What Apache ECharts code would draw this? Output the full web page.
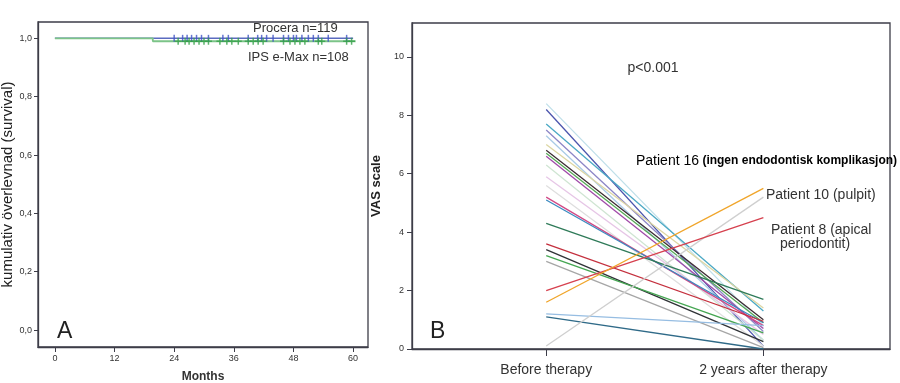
<!DOCTYPE html>
<html>
<head>
<meta charset="utf-8">
<script src="https://cdn.jsdelivr.net/npm/echarts@6/dist/echarts.min.js"></script>
<style>html,body{margin:0;padding:0;background:#fff}#c{width:900px;height:383px}</style>
</head>
<body>
<div id="c"></div>
<script>
// ---------- Panel A: Kaplan-Meier survival ----------
var monthTicks = [0, 12, 24, 36, 48, 60];
var survTicks = [0, 0.2, 0.4, 0.6, 0.8, 1.0];
var proceraCurve = [[0, 1.0], [60, 1.0]];
var ipsCurve = [[0, 1.0], [19.7, 0.99], [60.5, 0.99]];
var proceraCensored = [24.0, 25.7, 26.6, 27.5, 28.5, 29.5, 30.9, 33.8, 34.9, 38.9, 40.8, 41.6, 42.6, 43.9, 46.0, 47.0, 48.0, 48.6, 49.7, 51.0, 52.0, 53.0, 55.0, 58.7];
var ipsCensored = [24.8, 26.2, 27.0, 28.0, 29.0, 30.0, 30.9, 33.2, 34.6, 35.6, 36.9, 38.9, 39.9, 40.9, 41.9, 46.0, 47.3, 48.3, 49.3, 50.3, 53.0, 53.7, 58.7, 59.7];
var proceraLevel = 1.0;
var ipsLevel = 0.99;

// ---------- Panel B: VAS before / after ----------
var timepoints = ['Before therapy', '2 years after therapy'];
var vasTicks = [0, 2, 4, 6, 8, 10];
var vasBefore = [8.4, 8.2, 7.7, 7.5, 7.3, 7.0, 6.8, 6.7, 6.6, 6.3, 5.9, 5.6, 5.2, 5.1, 4.3, 3.6, 3.4, 3.2, 3.0, 1.2, 1.1, 0.1, 2.0, 1.6];
var vasAfter  = [0.8, 0.1, 1.3, 0.6, 0.3, 1.4, 1.0, 0.9, 0.7, 0.3, 0.5, 0.1, 0.8, 0.9, 1.7, 0.95, 0.25, 0.55, 0.05, 0.8, 0.0, 5.2, 4.5, 5.5];
var lineColors = ['#bfdfe9', '#4b55ad', '#4aa8c4', '#8c86c6', '#a9cbe6', '#dcd6a2', '#3b2c30', '#55a855', '#a04aa8', '#cfe5d2', '#e6c6e6', '#dedede', '#d14a86', '#3a8ac0', '#2e7a58', '#c4303e', '#2f3236', '#45a652', '#a6a6a6', '#96bde2', '#2f6a88', '#cfcfcf', '#d6404e', '#f0a52a'];

var FF = '"Liberation Sans", Arial, sans-serif';
var axisCol = '#3d3d48';
var txtCol = '#333';

var series = [];
// Panel A curves
series.push({type: 'line', xAxisIndex: 0, yAxisIndex: 0, data: proceraCurve, step: 'end', symbol: 'none',
  lineStyle: {color: '#5b6bc0', width: 1.5}, z: 2, silent: true});
series.push({type: 'line', xAxisIndex: 0, yAxisIndex: 0, data: ipsCurve, step: 'end', symbol: 'none',
  lineStyle: {color: '#7cc488', width: 1.8}, z: 3, silent: true});
series.push({type: 'scatter', xAxisIndex: 0, yAxisIndex: 0,
  data: proceraCensored.map(function (t) { return [t, proceraLevel]; }),
  symbol: 'path://M0 0H1V8H0Z', symbolSize: [1.5, 7], itemStyle: {color: '#3f52c4'}, z: 4, silent: true});
series.push({type: 'scatter', xAxisIndex: 0, yAxisIndex: 0,
  data: ipsCensored.map(function (t) { return [t, ipsLevel]; }),
  symbol: 'path://M2.75 0H4.25V2.75H7V4.25H4.25V7H2.75V4.25H0V2.75H2.75Z', symbolSize: [7, 7], itemStyle: {color: '#35a048'}, z: 5, silent: true});
// Panel B lines
for (var i = 0; i < vasBefore.length; i++) {
  series.push({type: 'line', xAxisIndex: 1, yAxisIndex: 1, data: [[0, vasBefore[i]], [1, vasAfter[i]]],
    symbol: 'none', lineStyle: {color: lineColors[i], width: 1.3}, z: 2 + i * 0.01, silent: true});
}

var chart = echarts.init(document.getElementById('c'), null, {renderer: 'canvas'});
chart.setOption({
  animation: false,
  backgroundColor: '#fff',
  grid: [
    {left: 38, top: 22, width: 330, height: 325, show: true, borderColor: axisCol, borderWidth: 1.3, backgroundColor: 'transparent', containLabel: false, outerBoundsMode: 'none'},
    {left: 412, top: 23, width: 478, height: 326, show: true, borderColor: axisCol, borderWidth: 1.3, backgroundColor: 'transparent', containLabel: false, outerBoundsMode: 'none'}
  ],
  xAxis: [
    {type: 'value', gridIndex: 0, min: -3.4, max: 63,
      name: 'Months', nameLocation: 'middle', nameGap: 24,
      nameTextStyle: {fontFamily: FF, fontSize: 12, fontWeight: 'bold', color: txtCol},
      axisLine: {show: true, onZero: false, lineStyle: {color: axisCol, width: 1.3}},
      axisTick: {show: true, length: 5, customValues: monthTicks, lineStyle: {color: axisCol}},
      axisLabel: {customValues: monthTicks, margin: 7, fontFamily: FF, fontSize: 9, color: txtCol},
      splitLine: {show: false}},
    {type: 'value', gridIndex: 1, min: -0.618, max: 1.583,
      axisLine: {show: true, onZero: false, lineStyle: {color: axisCol, width: 1.3}},
      axisTick: {show: true, length: 7, customValues: [0, 1], lineStyle: {color: axisCol}},
      axisLabel: {customValues: [0, 1], margin: 14, fontFamily: FF, fontSize: 14, color: txtCol,
        formatter: function (v) { return timepoints[Math.round(v)]; }},
      splitLine: {show: false}}
  ],
  yAxis: [
    {type: 'value', gridIndex: 0, min: -0.058, max: 1.056,
      name: 'kumulativ överlevnad (survival)', nameLocation: 'middle', nameGap: 18,
      nameTextStyle: {fontFamily: FF, fontSize: 15, color: '#222'},
      axisLine: {show: true, onZero: false, lineStyle: {color: axisCol, width: 1.3}},
      axisTick: {show: true, length: 4, customValues: survTicks, lineStyle: {color: axisCol}},
      axisLabel: {customValues: survTicks, margin: 6, fontFamily: FF, fontSize: 9, color: txtCol,
        formatter: function (v) { return v.toFixed(1).replace('.', ','); }},
      splitLine: {show: false}},
    {type: 'value', gridIndex: 1, min: 0, max: 11.16,
      name: 'VAS scale', nameLocation: 'middle', nameGap: 25,
      nameTextStyle: {fontFamily: FF, fontSize: 13, fontWeight: 'bold', color: '#222'},
      axisLine: {show: true, onZero: false, lineStyle: {color: axisCol, width: 1.3}},
      axisTick: {show: true, length: 5, customValues: vasTicks, lineStyle: {color: axisCol}},
      axisLabel: {customValues: vasTicks, margin: 8, fontFamily: FF, fontSize: 9, color: txtCol},
      splitLine: {show: false}}
  ],
  graphic: [
    {type: 'text', style: {text: 'Procera n=119', x: 253, y: 28, fontFamily: FF, fontSize: 13, fill: txtCol, verticalAlign: 'middle'}},
    {type: 'text', style: {text: 'IPS e-Max n=108', x: 248, y: 57, fontFamily: FF, fontSize: 13, fill: txtCol, verticalAlign: 'middle'}},
    {type: 'text', style: {text: 'A', x: 57, y: 332, fontFamily: FF, fontSize: 23, fill: '#222', verticalAlign: 'middle'}},
    {type: 'text', style: {text: 'B', x: 430, y: 332, fontFamily: FF, fontSize: 23, fill: '#222', verticalAlign: 'middle'}},
    {type: 'text', style: {text: 'p<0.001', x: 653, y: 68, fontFamily: FF, fontSize: 14, fill: txtCol, align: 'center', verticalAlign: 'middle'}},
    {type: 'text', style: {text: '{a|Patient 16} {b|(ingen endodontisk komplikasjon)}', x: 636, y: 161, verticalAlign: 'middle',
      rich: {a: {fontFamily: FF, fontSize: 14, color: txtCol}, b: {fontFamily: FF, fontSize: 12, fontWeight: 'bold', color: '#111'}}}},
    {type: 'text', style: {text: 'Patient 10 (pulpit)', x: 766, y: 195, fontFamily: FF, fontSize: 14, fill: txtCol, verticalAlign: 'middle'}},
    {type: 'text', style: {text: 'Patient 8 (apical', x: 771, y: 230, fontFamily: FF, fontSize: 14, fill: txtCol, verticalAlign: 'middle'}},
    {type: 'text', style: {text: 'periodontit)', x: 780, y: 244, fontFamily: FF, fontSize: 14, fill: txtCol, verticalAlign: 'middle'}}
  ],
  series: series
});
</script>
</body>
</html>
